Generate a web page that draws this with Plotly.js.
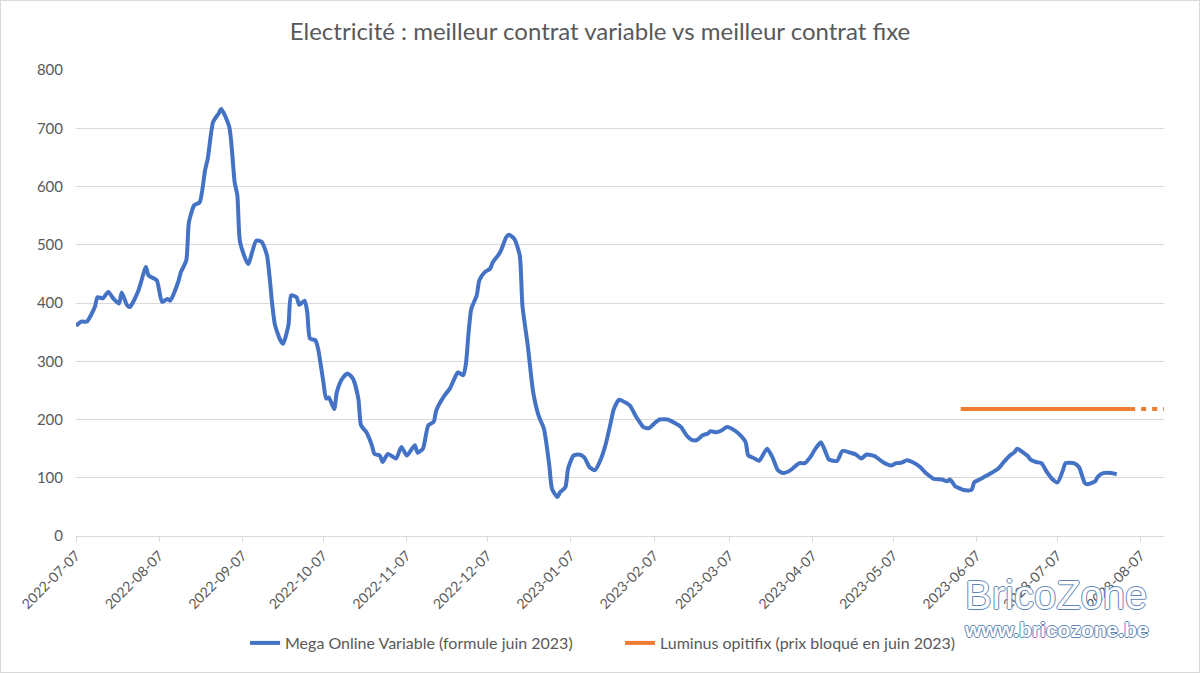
<!DOCTYPE html>
<html>
<head>
<meta charset="utf-8">
<script src="https://cdn.plot.ly/plotly-3.0.1.min.js"></script>
<style>
  html, body { margin: 0; padding: 0; background: #ffffff; }
  #wrap { position: relative; width: 1200px; height: 673px; }
  #chart { width: 1200px; height: 673px; }
  #frame { position: absolute; left: 0; top: 0; width: 1198px; height: 671px; border: 1px solid #d9d9d9; pointer-events: none; }
</style>
</head>
<body>
<div id="wrap"><div id="chart"></div><div id="frame"></div></div>
<script>
// ---- Data ----
const startDate = "2022-07-07";   // day 0 of the series
// Mega Online Variable: days after startDate and price
const variableDays = [0,2,4,7,8,10,12,14,16,17,19,20,23,24,26,27,30,32,34,35,38,39,41,42,44,46,48,49,51,53,54,57,59,60,61,64,67,69,71,73,74,76,77,79,80,82,83,85,86,87,89,90,92,93,94,96,97,99,101,103,105,106,108,110,111,113,114,116,119,121,123,126,127,129,131,133,134,137,139,141,142,144,145,146,147,149,150,152,154,155,157,158,160,161,163,165,166,168,170,172,174,176,177,179,180,182,183,185,187,189,191,193,195,197,199,200,202,204,206,208,210,211,213,215,217,220,223,225,227,229,231,233,235,236,238,240,242,245,247,249,250,252,254,257,259,261,263,266,267,269,271,273,275,277,279,280,283,285,288,290,292,294,297,300,303,305,307,309,311,314,316,318,319,322,324,325,327,328,330,333,334,336,338,341,343,345,347,349,350,352,354,355,357,359,361,363,365,367,368,371,373,375,376,379,380,382,385,387];
const variableValues = [361,368,368,393,410,408,419,407,399,418,396,393,419,433,462,447,439,402,407,404,436,453,473,539,568,573,628,648,711,725,733,702,607,585,505,467,507,505,482,396,362,336,330,362,413,410,397,404,384,339,336,322,264,236,238,218,247,270,279,270,236,190,178,156,141,138,127,141,133,153,138,156,143,150,190,196,216,241,253,273,281,276,296,350,390,413,439,453,459,470,482,490,513,517,510,482,396,327,247,207,184,121,81,67,75,84,116,138,140,135,118,113,130,158,198,218,234,230,224,207,193,187,185,193,200,200,193,187,173,165,165,173,176,180,178,181,187,181,173,161,138,134,129,150,135,113,108,114,118,125,125,135,150,161,141,131,129,146,143,140,133,140,137,127,121,125,126,130,127,118,108,101,98,97,94,97,85,83,79,79,92,97,102,110,116,127,137,144,150,144,137,131,127,125,110,98,92,113,125,125,118,92,89,94,102,108,108,106];
// Luminus optifix: fixed price from June 2023 (solid), then projected (dotted)
const fixedDays = [329, 392];
const fixedValues = [218, 218];
const fixedProjDays = [392, 405];
const fixedProjValues = [218, 218];
// Axis ticks
const yTicks = [0,100,200,300,400,500,600,700,800];
const xTickLabels = ["2022-07-07","2022-08-07","2022-09-07","2022-10-07","2022-11-07","2022-12-07","2023-01-07","2023-02-07","2023-03-07","2023-04-07","2023-05-07","2023-06-07","2023-07-07","2023-08-07"];
const xRange = ["2022-07-07", "2023-08-15 14:00"];
const seriesNames = ["Mega Online Variable (formule juin 2023)", "Luminus opitifix (prix bloqué en juin 2023)"];
const titleText = "Electricité : meilleur contrat variable vs meilleur contrat fixe";

// ---- helpers ----
const t0 = Date.parse(startDate + "T00:00:00Z");
const toDate = d => new Date(t0 + d * 86400000).toISOString().slice(0, 10);

const blue = "#4472C4", orange = "#ED7D31", grey = "#595959", grid = "#d9d9d9";
const font = "Lato, 'Open Sans', sans-serif";

const traces = [
  { x: variableDays.map(toDate), y: variableValues, name: seriesNames[0], type: "scatter", mode: "lines",
    line: { color: blue, width: 4, shape: "spline", smoothing: 0.6 }, legendgroup: "a" },
  { x: fixedDays.map(toDate), y: fixedValues, name: seriesNames[1], type: "scatter", mode: "lines",
    line: { color: orange, width: 4 }, legendgroup: "b" },
  { x: fixedProjDays.map(toDate), y: fixedProjValues, name: seriesNames[1], type: "scatter", mode: "lines",
    line: { color: orange, width: 4, dash: "5px,6px" }, legendgroup: "b", showlegend: false }
];

const layout = {
  width: 1200, height: 673,
  margin: { l: 75.5, r: 36, t: 70, b: 137.4 },
  paper_bgcolor: "#ffffff", plot_bgcolor: "#ffffff",
  font: { family: font, color: grey, size: 14 },
  title: { text: titleText, font: { family: font, size: 24, color: grey }, x: 0.5, xanchor: "center", y: 1 - 32/673, yanchor: "middle", yref: "container" },
  xaxis: {
    type: "date", range: xRange,
    tickvals: xTickLabels, ticktext: xTickLabels, tickangle: -45,
    showgrid: false, zeroline: false,
    showline: true, linecolor: grid, linewidth: 1,
    ticks: "outside", ticklen: 5, tickcolor: grid,
    tickfont: { family: font, size: 14, color: grey }
  },
  yaxis: {
    range: [0, 800], tickvals: yTicks, ticks: "",
    showgrid: true, gridcolor: grid, gridwidth: 1,
    zeroline: false, showline: false,
    ticklabelstandoff: 12,
    tickfont: { family: font, size: 15, color: grey }
  },
  showlegend: true,
  legend: { orientation: "h", x: 0.5 + 20/1200, xanchor: "center", xref: "container", y: 1 - 643/673, yanchor: "middle", yref: "container",
    font: { family: font, size: 16, color: grey }, entrywidth: 330, bgcolor: "rgba(0,0,0,0)" },
  annotations: [
    { text: "BricoZone", xref: "paper", yref: "paper", x: (1056 - 75.5)/1088.5, y: (535.6 - 595)/465.6,
      showarrow: false, xanchor: "center", yanchor: "middle",
      font: { family: "'Liberation Sans', Arial, sans-serif", size: 40, color: "#ffffff",
        shadow: "1px 0 0 #5f86b3, -1px 0 0 #5f86b3, 0 1px 0 #5f86b3, 0 -1px 0 #5f86b3" } },
    { text: "www.bricozone.be", xref: "paper", yref: "paper", x: (1056 - 75.5)/1088.5, y: (535.6 - 629)/465.6,
      showarrow: false, xanchor: "center", yanchor: "middle",
      font: { family: "'Liberation Sans', Arial, sans-serif", size: 21, weight: "bold", color: "#ffffff",
        shadow: "1px 0 0 #5f86b3, -1px 0 0 #5f86b3, 0 1px 0 #5f86b3, 0 -1px 0 #5f86b3" } }
  ]
};

Plotly.newPlot("chart", traces, layout, { displayModeBar: false, staticPlot: true });
</script>
</body>
</html>
